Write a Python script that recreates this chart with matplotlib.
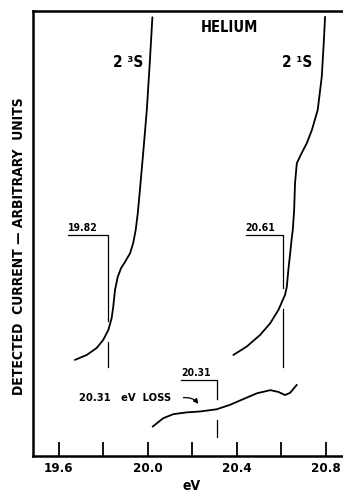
import numpy as np
import matplotlib.pyplot as plt

# 2^3S excitation curve (eV, arbitrary units)
ev_23s = [19.673, 19.726, 19.771, 19.800, 19.823, 19.838, 19.845, 19.853, 19.865, 19.880,
          19.898, 19.921, 19.935, 19.946, 19.955, 19.965, 19.980, 19.996, 20.010, 20.021]
cur_23s = [21.6, 22.7, 24.3, 26.1, 28.3, 31.0, 33.5, 37.3, 40.2, 42.2,
           43.6, 45.6, 47.9, 50.8, 54.4, 59.8, 68.3, 77.8, 89.0, 98.6]

# 2^1S excitation curve
ev_21s = [20.385, 20.445, 20.505, 20.550, 20.587, 20.617, 20.625, 20.632, 20.640, 20.648,
          20.652, 20.658, 20.662, 20.670, 20.692, 20.715, 20.738, 20.764, 20.782, 20.791, 20.797]
cur_21s = [22.7, 24.6, 27.2, 29.8, 32.8, 36.2, 38.0, 41.8, 45.5, 49.3,
           50.8, 55.3, 61.3, 65.8, 68.1, 70.3, 73.3, 77.8, 85.2, 92.8, 98.7]

# 20.31 eV loss curve
ev_loss = [20.022, 20.070, 20.115, 20.175, 20.235, 20.310, 20.370, 20.430,
           20.491, 20.551, 20.587, 20.617, 20.640, 20.670]
cur_loss = [6.6, 8.5, 9.4, 9.8, 10.0, 10.5, 11.5, 12.8,
            14.1, 14.8, 14.4, 13.7, 14.2, 16.0]

# threshold markers
marker_ev = [19.82, 20.61, 20.31]
marker_labels = ['19.82', '20.61', '20.31']

xticks = [19.6, 19.8, 20.0, 20.2, 20.4, 20.6, 20.8]
xticklabels = ['19.6', '', '20.0', '', '20.4', '', '20.8']

plt.rcParams['font.family'] = ['DejaVu Sans']
plt.rcParams['font.stretch'] = 'condensed'
plt.rcParams['font.weight'] = 'bold'

fig = plt.figure(figsize=(3.43, 4.93), dpi=100)
# axes runs off the right edge of the page, like the scanned figure
ax = fig.add_axes([33 / 343, 37 / 493, 317 / 343, 445 / 493])

curves = [(ev_23s, cur_23s), (ev_21s, cur_21s), (ev_loss, cur_loss)]
for xs, ys in curves:
    ax.plot(xs, ys, color='black', linewidth=1.3,
            solid_capstyle='round', solid_joinstyle='round')

# marker brackets: (curve index, top of bracket, bottom of line, label offset)
brackets = [(0, 49.7, 20.0, 0.18), (1, 49.7, 20.1, 0.17), (2, 17.1, 4.3, 0.16)]
for (ci, top, bot, off), e, lab in zip(brackets, marker_ev, marker_labels):
    xs, ys = curves[ci]
    yc = np.interp(e, xs, ys)
    gap = 2.4
    ax.plot([e - off, e, e], [top, top, yc + gap], color='black', linewidth=0.9)
    ax.plot([e, e], [yc - gap, bot], color='black', linewidth=0.9)
    ax.text(e - off, top + 0.4, lab, fontsize=7.5, ha='left', va='bottom')

ax.text(19.691, 13.0, '20.31   eV  LOSS', fontsize=8, ha='left', va='center')
ax.annotate('', xy=(20.235, 11.2), xytext=(20.148, 13.0),
            arrowprops=dict(arrowstyle='-|>', color='black', lw=0.9,
                            mutation_scale=7,
                            connectionstyle='arc3,rad=-0.35'))

ax.text(19.912, 88.5, '2 ³S', fontsize=11, ha='center', va='center')
ax.text(20.672, 88.5, '2 ¹S', fontsize=11, ha='center', va='center')
ax.text(20.365, 96.4, 'HELIUM', fontsize=10.5, ha='center', va='center')

ax.set_xlim(19.4845, 20.909)
ax.set_ylim(0, 100)
ax.set_yticks([])
ax.set_xticks(xticks)
ax.set_xticklabels(xticklabels, fontsize=9.5)
ax.tick_params(axis='x', direction='in', length=10, width=1.3, pad=4)

ax.spines['right'].set_visible(False)
for s in ['left', 'top', 'bottom']:
    ax.spines[s].set_linewidth(1.8)

ax.set_xlabel('eV', fontsize=10, fontweight='bold', labelpad=3)
fig.text(19 / 343, 247 / 493, 'DETECTED  CURRENT — ARBITRARY  UNITS',
         rotation=90, ha='center', va='center', fontsize=10)

fig.savefig('out.png', dpi=100)
